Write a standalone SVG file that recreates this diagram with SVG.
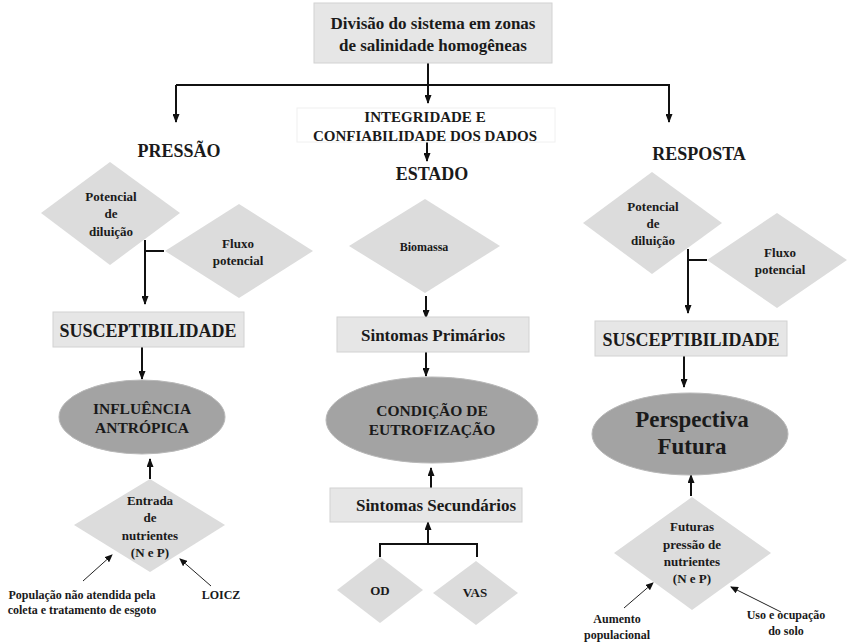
<svg xmlns="http://www.w3.org/2000/svg" width="847" height="644" viewBox="0 0 847 644">
  <style>
    text { font-family: "Liberation Serif", "DejaVu Serif", "Times New Roman", Times, serif; font-weight: bold; fill: #1a1a1a; text-anchor: middle; }
    .box { fill: #e6e6e6; stroke: #d2d2d2; stroke-width: 1; }
    .dia { fill: #dcdcdc; }
    .ell { fill: #a3a3a3; stroke: #b8b8b8; stroke-width: 1; }
    .ln { fill: none; stroke: #111; stroke-width: 2; }
    .thin { fill: none; stroke: #222; stroke-width: 1; }
    .h { font-size: 18px; }
    .s { font-size: 13px; }
    .xs { font-size: 12px; }
  </style>
  <defs>
    <marker id="tip" markerUnits="userSpaceOnUse" markerWidth="9" markerHeight="7" refX="8" refY="3.5" orient="auto" viewBox="0 0 9 7">
      <path d="M0,0 L9,3.5 L0,7 z" fill="#111"/>
    </marker>
    <marker id="tipS" markerUnits="userSpaceOnUse" markerWidth="8" markerHeight="7" refX="7" refY="3.5" orient="auto" viewBox="0 0 8 7">
      <path d="M0,0 L8,3.5 L0,7 z" fill="#111"/>
    </marker>
  </defs>

  <!-- connectors -->
  <g id="connectors">
    <path class="ln" d="M428,63 V103" marker-end="url(#tip)"/>
    <path class="ln" d="M176,85 H669 V122" marker-end="url(#tip)"/>
    <path class="ln" d="M176,85 V122" marker-end="url(#tip)"/>
    <path class="ln" d="M427,142 V161" marker-end="url(#tip)"/>
    <!-- pressão -->
    <path class="ln" d="M145,240 V304" marker-end="url(#tip)"/>
    <path class="ln" d="M145,251 H164"/>
    <path class="ln" d="M142,347 V379" marker-end="url(#tip)"/>
    <path class="ln" d="M150,479 V459" marker-end="url(#tip)"/>
    <path class="thin" d="M83,581 L112,555" marker-end="url(#tipS)"/>
    <path class="thin" d="M211,586 L180,559" marker-end="url(#tipS)"/>
    <!-- estado -->
    <path class="ln" d="M426,296 V318" marker-end="url(#tip)"/>
    <path class="ln" d="M426,352 V376" marker-end="url(#tip)"/>
    <path class="ln" d="M431,488 V468" marker-end="url(#tip)"/>
    <path class="ln" d="M380,557 V544 H477 V557"/>
    <path class="ln" d="M428,544 V522" marker-end="url(#tip)"/>
    <!-- resposta -->
    <path class="ln" d="M688,249 V313" marker-end="url(#tip)"/>
    <path class="ln" d="M688,260 H707"/>
    <path class="ln" d="M684,356 V387" marker-end="url(#tip)"/>
    <path class="ln" d="M691,496 V475" marker-end="url(#tip)"/>
    <path class="thin" d="M624,608 L653,583" marker-end="url(#tipS)"/>
    <path class="thin" d="M781,612 L731,587" marker-end="url(#tipS)"/>
  </g>

  <g id="divisao">
    <rect class="box" x="314" y="3" width="238" height="60"/>
    <text x="433" y="29" font-size="17">Divisão do sistema em zonas</text>
    <text x="433" y="51" font-size="17">de salinidade homogêneas</text>
  </g>

  <g id="integridade">
    <rect x="297" y="108" width="258" height="34" fill="#fff" stroke="#f0f0f0"/>
    <text x="425" y="122" font-size="15">INTEGRIDADE E</text>
    <text x="425" y="141" font-size="15">CONFIABILIDADE DOS DADOS</text>
  </g>

  <g id="pressao"><text class="h" x="179" y="157">PRESSÃO</text></g>
  <g id="estado"><text class="h" x="432" y="180">ESTADO</text></g>
  <g id="resposta"><text class="h" x="699" y="160">RESPOSTA</text></g>

  <!-- pressão column -->
  <g id="p-diluicao">
    <polygon class="dia" points="110,162 180,213 110,265 41,213"/>
    <text class="s" x="111" y="201">Potencial</text>
    <text class="s" x="111" y="218">de</text>
    <text class="s" x="111" y="236">diluição</text>
  </g>
  <g id="p-fluxo">
    <polygon class="dia" points="239,204 313,251 239,298 165,251"/>
    <text class="s" x="238" y="248">Fluxo</text>
    <text class="s" x="238" y="265">potencial</text>
  </g>
  <g id="p-suscept">
    <rect class="box" x="53" y="312" width="191" height="35"/>
    <text x="148" y="337" font-size="18">SUSCEPTIBILIDADE</text>
  </g>
  <g id="p-influencia">
    <ellipse class="ell" cx="142" cy="417" rx="83" ry="37"/>
    <text x="142" y="414" font-size="15.5">INFLUÊNCIA</text>
    <text x="142" y="433" font-size="15.5">ANTRÓPICA</text>
  </g>
  <g id="p-entrada">
    <polygon class="dia" points="150,479 225,525 150,572 74,525"/>
    <text class="s" x="150" y="505">Entrada</text>
    <text class="s" x="150" y="522">de</text>
    <text class="s" x="150" y="540">nutrientes</text>
    <text class="s" x="150" y="557">(N e P)</text>
  </g>
  <g id="p-populacao">
    <text class="xs" x="82" y="599">População não atendida pela</text>
    <text class="xs" x="82" y="614">coleta e tratamento de esgoto</text>
  </g>
  <g id="p-loicz"><text class="xs" x="221" y="599">LOICZ</text></g>

  <!-- estado column -->
  <g id="e-biomassa">
    <polygon class="dia" points="425,199 500,246 425,293 349,246"/>
    <text class="xs" x="424" y="251">Biomassa</text>
  </g>
  <g id="e-primarios">
    <rect class="box" x="337" y="317" width="192" height="35"/>
    <text x="433" y="341" font-size="17">Sintomas Primários</text>
  </g>
  <g id="e-condicao">
    <ellipse class="ell" cx="432" cy="420" rx="106" ry="43"/>
    <text x="432" y="416" font-size="15.5">CONDIÇÃO DE</text>
    <text x="432" y="435" font-size="15.5">EUTROFIZAÇÃO</text>
  </g>
  <g id="e-secundarios">
    <rect class="box" x="330" y="488" width="192" height="34"/>
    <text x="436" y="511" font-size="17">Sintomas Secundários</text>
  </g>
  <g id="e-od">
    <polygon class="dia" points="380,557 423,590 380,623 337,590"/>
    <text class="s" x="380" y="595">OD</text>
  </g>
  <g id="e-vas">
    <polygon class="dia" points="476,561 518,593 476,625 433,593"/>
    <text class="s" x="475" y="597">VAS</text>
  </g>

  <!-- resposta column -->
  <g id="r-diluicao">
    <polygon class="dia" points="652,172 722,223 652,274 583,223"/>
    <text class="s" x="653" y="211">Potencial</text>
    <text class="s" x="653" y="228">de</text>
    <text class="s" x="653" y="245">diluição</text>
  </g>
  <g id="r-fluxo">
    <polygon class="dia" points="777,213 847,260 777,308 707,260"/>
    <text class="s" x="780" y="257">Fluxo</text>
    <text class="s" x="780" y="274">potencial</text>
  </g>
  <g id="r-suscept">
    <rect class="box" x="595" y="321" width="192" height="35"/>
    <text x="691" y="346" font-size="18">SUSCEPTIBILIDADE</text>
  </g>
  <g id="r-perspectiva">
    <ellipse class="ell" cx="690" cy="434" rx="98" ry="41"/>
    <text x="692" y="427" font-size="23">Perspectiva</text>
    <text x="692" y="454" font-size="23">Futura</text>
  </g>
  <g id="r-futuras">
    <polygon class="dia" points="692,497 771,553 692,610 614,553"/>
    <text class="s" x="692" y="531">Futuras</text>
    <text class="s" x="692" y="549">pressão de</text>
    <text class="s" x="692" y="566">nutrientes</text>
    <text class="s" x="692" y="583">(N e P)</text>
  </g>
  <g id="r-aumento">
    <text class="xs" x="617" y="623">Aumento</text>
    <text class="xs" x="617" y="639">populacional</text>
  </g>
  <g id="r-uso">
    <text class="xs" x="786" y="619">Uso e ocupação</text>
    <text class="xs" x="786" y="635">do solo</text>
  </g>
</svg>
